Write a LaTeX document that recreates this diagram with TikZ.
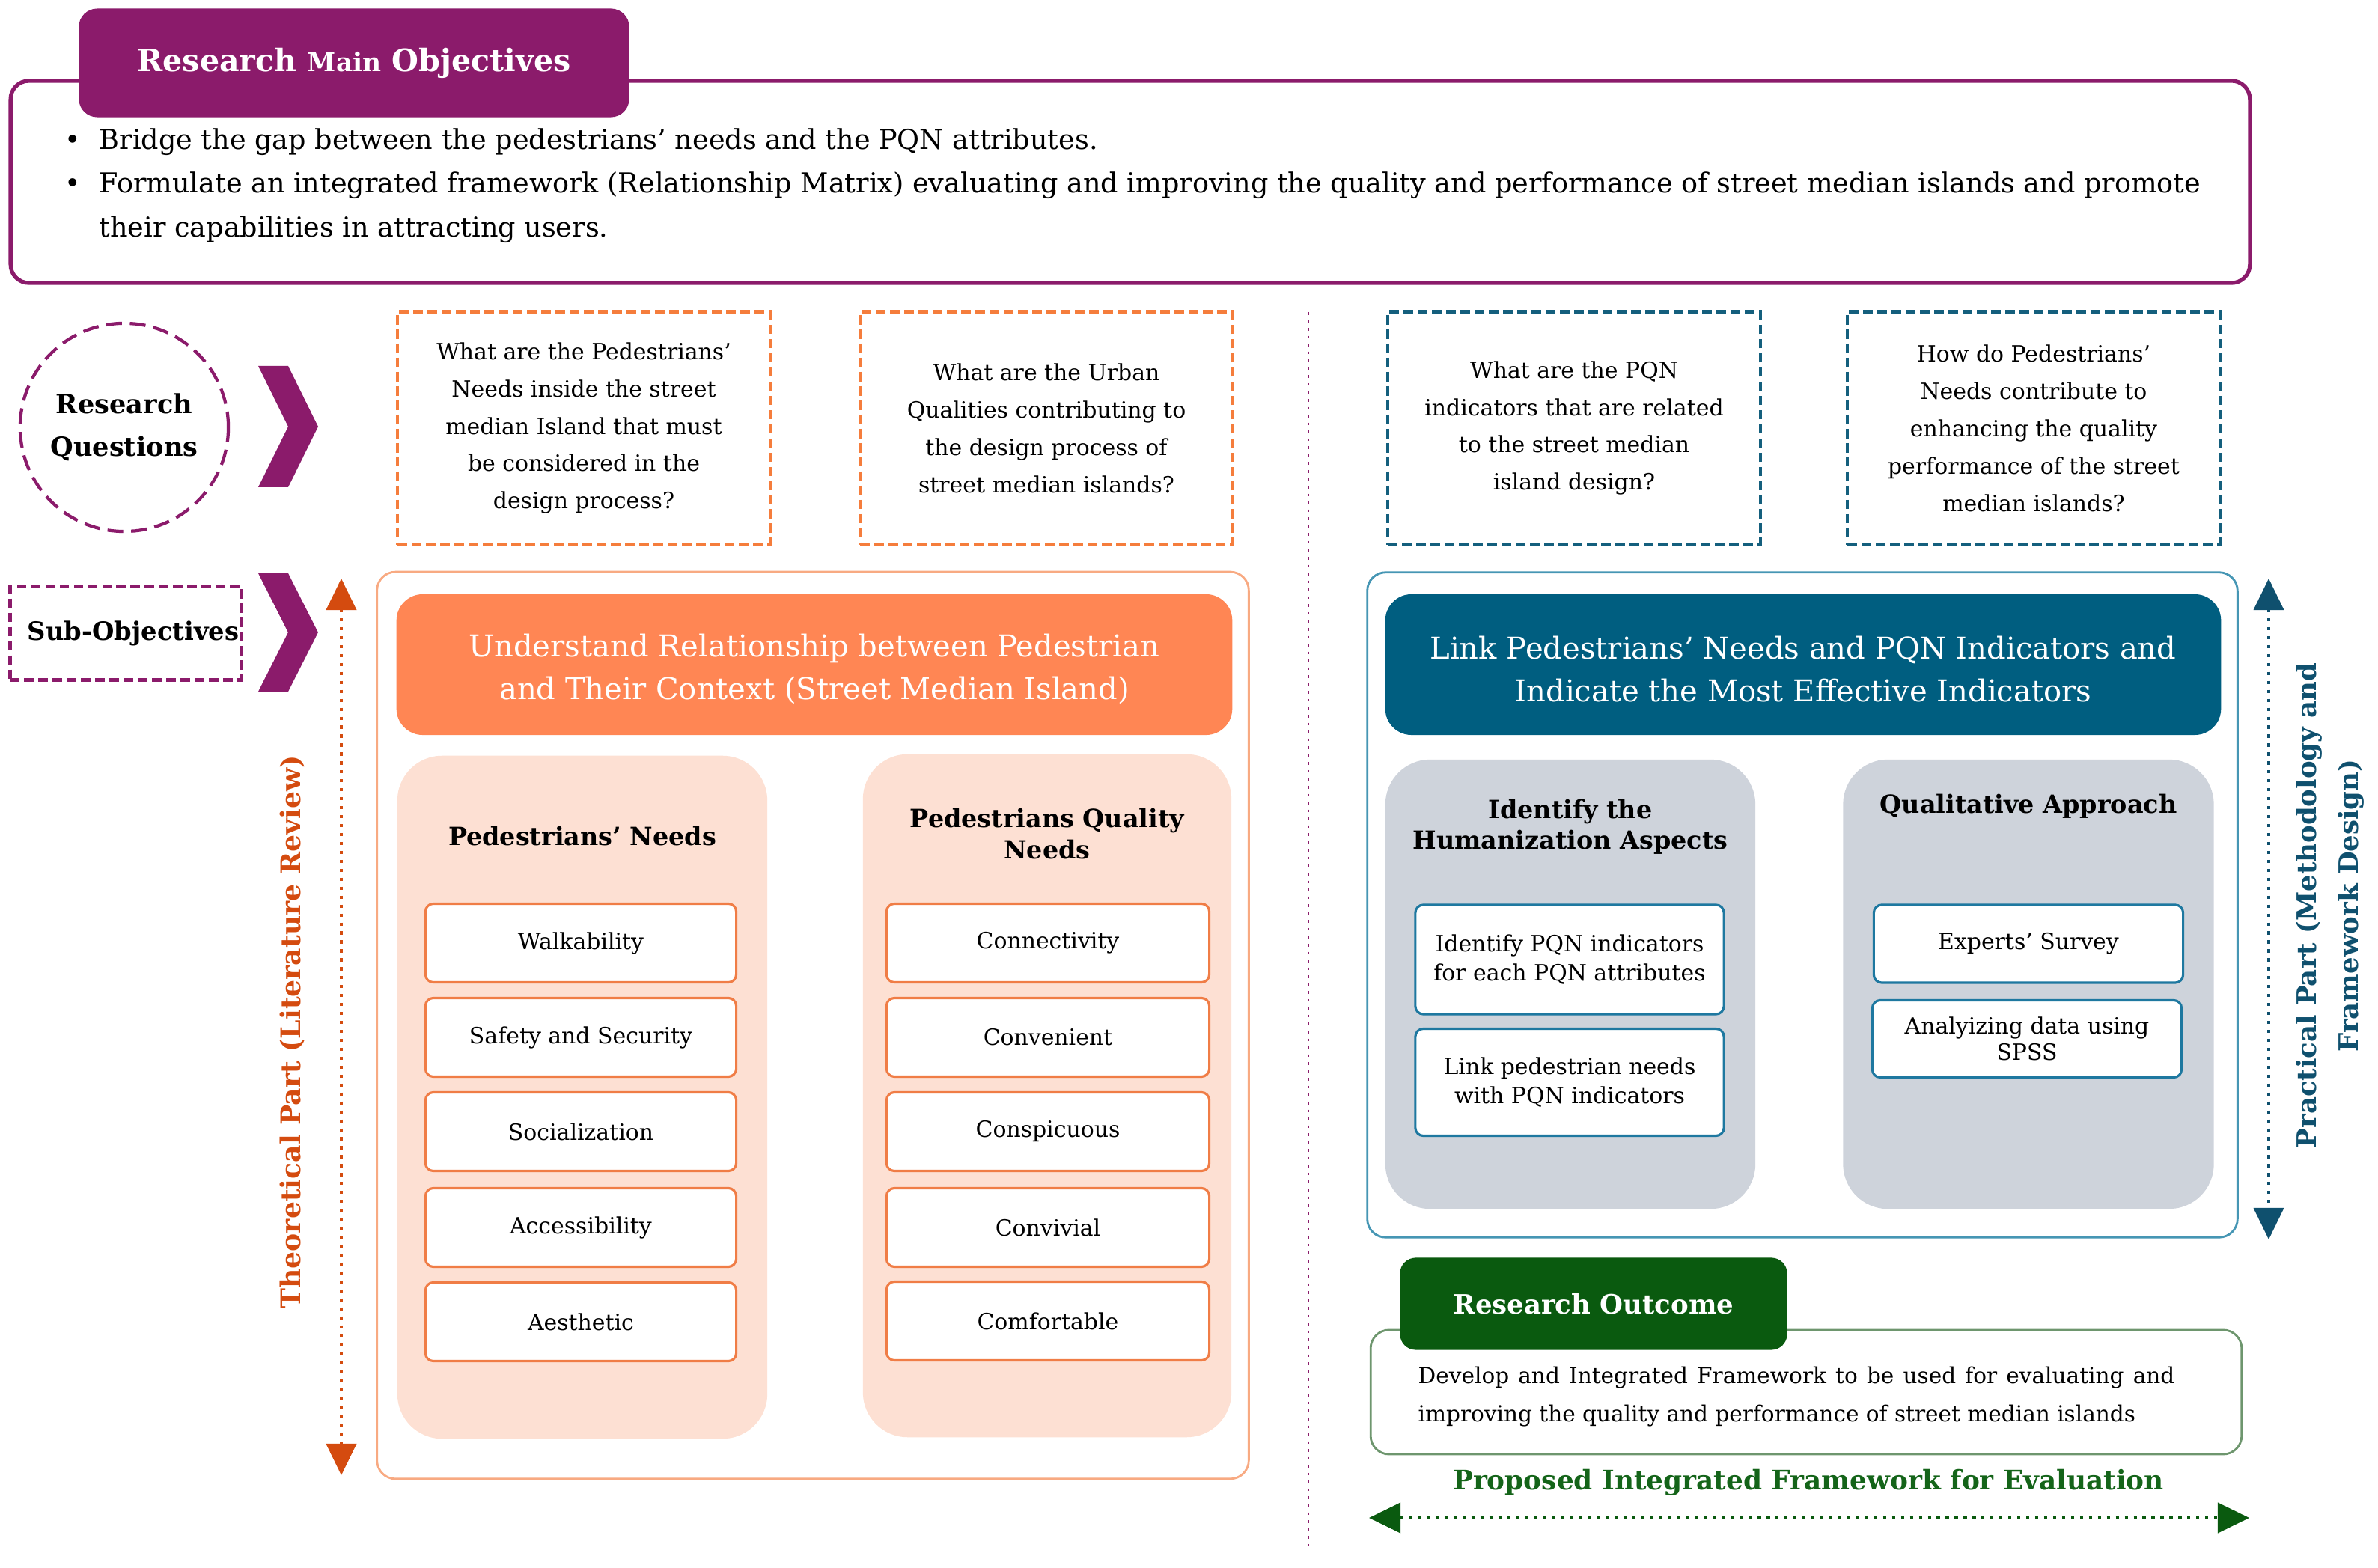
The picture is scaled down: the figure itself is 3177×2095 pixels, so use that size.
\documentclass[tikz,border=0pt]{standalone}
\usepackage{fontspec}
\setmainfont{DejaVu Serif}
\usetikzlibrary{arrows.meta}
\usetikzlibrary{calc}
\definecolor{rmpurple}{RGB}{139,27,107}
\definecolor{qorange}{RGB}{245,125,60}
\definecolor{hdorange}{RGB}{255,134,84}
\definecolor{peach}{RGB}{253,224,211}
\definecolor{itemorange}{RGB}{240,125,70}
\definecolor{contorange}{RGB}{248,170,130}
\definecolor{arrorange}{RGB}{212,75,15}
\definecolor{qblue}{RGB}{20,95,125}
\definecolor{hdblue}{RGB}{0,94,128}
\definecolor{grayfill}{RGB}{206,211,219}
\definecolor{itemblue}{RGB}{30,120,160}
\definecolor{contblue}{RGB}{70,150,180}
\definecolor{arrblue}{RGB}{15,80,110}
\definecolor{outgreen}{RGB}{10,90,15}
\definecolor{bodygreen}{RGB}{110,150,110}
\definecolor{proptext}{RGB}{20,100,25}
\newcommand{\fs}[2]{\fontsize{#1}{#2}\selectfont}
\newcommand{\drawchevron}[2]{
    \begin{scope}[shift={(#1)}]
        \fill [rmpurple] (0,0) -- (40,0) -- (80,-#2/2) -- (40,-#2) -- (0,-#2) -- (40,-#2/2) -- cycle;
    \end{scope}
}
\tikzset{
    box/.style={inner sep=0pt, align=center},
    dashline/.style={line width=1.2pt, dash pattern=on 3.6pt off 1.8pt},
    qbox/.style={box, dashline, fill=white, font=\fs{8.5}{14.2}},
    item/.style={box, fill=white, line width=0.9pt, rounded corners=3pt, font=\fs{8.5}{11}},
    colbox/.style={box, rounded corners=17pt},
    hdbox/.style={box, rounded corners=10pt},
    hdtext/.style={box, text=white, font=\fs{11.4}{16.2}},
    coltitle/.style={box, font=\bfseries\fs{9.5}{11.8}},
    dotarrow/.style={line width=1.1pt, dash pattern=on 1.2pt off 2.2pt, {Triangle[width=0.4cm,length=0.42cm]}-{Triangle[width=0.4cm,length=0.42cm]}},
}

\begin{document}
\begin{tikzpicture}[x=0.01cm, y=0.01cm]
    \useasboundingbox (0,0) rectangle (3177,-2095);
    % main objectives
    \node [box, draw=rmpurple, line width=1.5pt, rounded corners=7pt, minimum width=29.9cm, minimum height=2.7cm] (objectives) at (1510,-243) {};
    \node [box, fill=rmpurple, rounded corners=7pt, minimum width=7.35cm, minimum height=1.45cm, text=white, font=\bfseries\fs{11.7}{15}] (objtitle) at (473,-84) {Research {\fs{9.8}{12}Main} Objectives};
    \node [anchor=base west, inner sep=0pt, font=\fs{10.4}{12}] (bul1) at (86,-200) {\textbullet};
    \node [anchor=base west, inner sep=0pt, font=\fs{10.4}{12}] (bul2) at (86,-258) {\textbullet};
    \node [anchor=base west, inner sep=0pt, font=\fs{10.4}{12}] (obj1) at (132,-200) {Bridge the gap between the pedestrians' needs and the PQN attributes.};
    \node [anchor=base west, inner sep=0pt, font=\fs{10.4}{12}] (obj2) at (132,-258) {Formulate an integrated framework (Relationship Matrix) evaluating and improving the quality and performance of street median islands and promote};
    \node [anchor=base west, inner sep=0pt, font=\fs{10.4}{12}] (obj3) at (132,-317) {their capabilities in attracting users.};
    % research questions
    \node [box, circle, draw=rmpurple, line width=1.2pt, dash pattern=on 6pt off 3pt, minimum size=2.78cm, font=\bfseries\fs{10}{16.2}] (rq) at (166,-571) {Research\\Questions};
    \drawchevron{345,-489}{162}
    \node [qbox, draw=qorange, minimum width=4.97cm, minimum height=3.11cm] (q1) at (780,-572) {What are the Pedestrians'\\Needs inside the street\\median Island that must\\be considered in the\\design process?};
    \node [qbox, draw=qorange, minimum width=4.97cm, minimum height=3.11cm] (q2) at (1398,-572) {What are the Urban\\Qualities contributing to\\the design process of\\street median islands?};
    \node [qbox, draw=qblue, minimum width=4.97cm, minimum height=3.11cm] (q3) at (2103,-572) {What are the PQN\\indicators that are related\\to the street median\\island design?};
    \node [qbox, draw=qblue, minimum width=4.97cm, minimum height=3.11cm] (q4) at (2717,-572) {How do Pedestrians'\\Needs contribute to\\enhancing the quality\\performance of the street\\median islands?};
    % sub-objectives
    \node [box, draw=rmpurple, dashline, minimum width=3.09cm, minimum height=1.25cm, font=\bfseries\fs{9.6}{12}] (subobj) at (168,-846) {\hspace{5.7pt}Sub-Objectives};
    \drawchevron{345,-766}{158}
    % divider
    \coordinate (divtop) at (1748,-417);
    \coordinate (divbot) at (1748,-2073);
    \draw [rmpurple, line width=0.6pt, dash pattern=on 1pt off 2pt] (divtop) -- (divbot);
    % theoretical part
    \node [box, draw=contorange, line width=0.8pt, rounded corners=7pt, minimum width=11.64cm, minimum height=12.11cm] (theory) at (1086,-1370) {};
    \node [hdbox, fill=hdorange, minimum width=11.16cm, minimum height=1.88cm] (theohead) at (1088,-888) {};
    \node [hdtext] (theoheadtext) at (1088,-894) {Understand Relationship between Pedestrian\\and Their Context (Street Median Island)};
    \node [colbox, fill=peach, minimum width=4.94cm, minimum height=9.12cm] (pncol) at (778,-1466) {};
    \node [colbox, fill=peach, minimum width=4.92cm, minimum height=9.12cm] (pqcol) at (1399,-1464) {};
    \node [coltitle] (pntitle) at (778,-1117) {Pedestrians' Needs};
    \node [coltitle] (pqtitle) at (1399,-1114) {Pedestrians Quality\\Needs};
    \node [item, draw=itemorange, minimum width=4.15cm, minimum height=1.05cm] (walk) at (776,-1260) {Walkability};
    \node [item, draw=itemorange, minimum width=4.15cm, minimum height=1.05cm] (safe) at (776,-1386) {Safety and Security};
    \node [item, draw=itemorange, minimum width=4.15cm, minimum height=1.05cm] (social) at (776,-1512) {Socialization};
    \node [item, draw=itemorange, minimum width=4.15cm, minimum height=1.05cm] (access) at (776,-1640) {Accessibility};
    \node [item, draw=itemorange, minimum width=4.15cm, minimum height=1.05cm] (aesth) at (776,-1766) {Aesthetic};
    \node [item, draw=itemorange, minimum width=4.31cm, minimum height=1.05cm] (connect) at (1400,-1260) {Connectivity};
    \node [item, draw=itemorange, minimum width=4.31cm, minimum height=1.05cm] (conven) at (1400,-1386) {Convenient};
    \node [item, draw=itemorange, minimum width=4.31cm, minimum height=1.05cm] (conspic) at (1400,-1512) {Conspicuous};
    \node [item, draw=itemorange, minimum width=4.31cm, minimum height=1.05cm] (conviv) at (1400,-1640) {Convivial};
    \node [item, draw=itemorange, minimum width=4.31cm, minimum height=1.05cm] (comfort) at (1400,-1765) {Comfortable};
    \coordinate (theotop) at (456,-773);
    \coordinate (theobot) at (456,-1971);
    \draw [dotarrow, arrorange] (theotop) -- (theobot);
    \node [box, rotate=90, text=arrorange, font=\bfseries\fs{10.3}{12}] (theolabel) at (391,-1379) {Theoretical Part (Literature Review)};
    % practical part
    \node [box, draw=contblue, line width=0.8pt, rounded corners=7pt, minimum width=11.62cm, minimum height=8.88cm] (practice) at (2408,-1209) {};
    \node [hdbox, fill=hdblue, minimum width=11.16cm, minimum height=1.88cm] (prachead) at (2409,-888) {};
    \node [hdtext] (pracheadtext) at (2409,-894) {Link Pedestrians' Needs and PQN Indicators and\\Indicate the Most Effective Indicators};
    \node [colbox, fill=grayfill, minimum width=4.94cm, minimum height=6.0cm] (humcol) at (2098,-1315) {};
    \node [colbox, fill=grayfill, minimum width=4.95cm, minimum height=6.0cm] (qualcol) at (2710,-1315) {};
    \node [coltitle] (humtitle) at (2098,-1105) {Identify the\\Humanization Aspects};
    \node [coltitle] (qualtitle) at (2710,-1077) {Qualitative Approach};
    \node [item, draw=itemblue, minimum width=4.12cm, minimum height=1.46cm] (pqnind) at (2097,-1282) {Identify PQN indicators\\for each PQN attributes};
    \node [item, draw=itemblue, minimum width=4.12cm, minimum height=1.43cm] (linkneeds) at (2097,-1446) {Link pedestrian needs\\with PQN indicators};
    \node [item, draw=itemblue, minimum width=4.13cm, minimum height=1.04cm] (survey) at (2710,-1261) {Experts' Survey};
    \node [item, draw=itemblue, minimum width=4.13cm, minimum height=1.03cm, font=\fs{8.5}{10}] (spss) at (2708,-1388) {Analyizing data using\\SPSS};
    \coordinate (practop) at (3031,-773);
    \coordinate (pracbot) at (3031,-1656);
    \draw [dotarrow, arrblue] (practop) -- (pracbot);
    \node [box, rotate=90, text=arrblue, font=\bfseries\fs{10.1}{16}] (praclabel) at (3113,-1210) {Practical Part (Methodology and\\Framework Design)};
    % research outcome
    \node [box, draw=bodygreen, line width=0.8pt, rounded corners=7pt, minimum width=11.63cm, minimum height=1.66cm] (outbody) at (2413,-1860) {};
    \node [box, fill=outgreen, rounded corners=6pt, minimum width=5.17cm, minimum height=1.23cm, text=white, font=\bfseries\fs{10.1}{13}] (outtitle) at (2129,-1742) {Research Outcome};
    \node [box, text width=10.1cm, align=justify, font=\fs{8.4}{14.5}] (outtext) at (2400,-1866) {Develop and Integrated Framework to be used for evaluating and improving the quality and performance of street median islands};
    \node [box, text=proptext, font=\bfseries\fs{10.2}{12}] (proplabel) at (2416,-1981) {Proposed Integrated Framework for Evaluation};
    \coordinate (propleft) at (1829,-2028);
    \coordinate (propright) at (3005,-2028);
    \draw [dotarrow, outgreen] (propleft) -- (propright);
\end{tikzpicture}
\end{document}
